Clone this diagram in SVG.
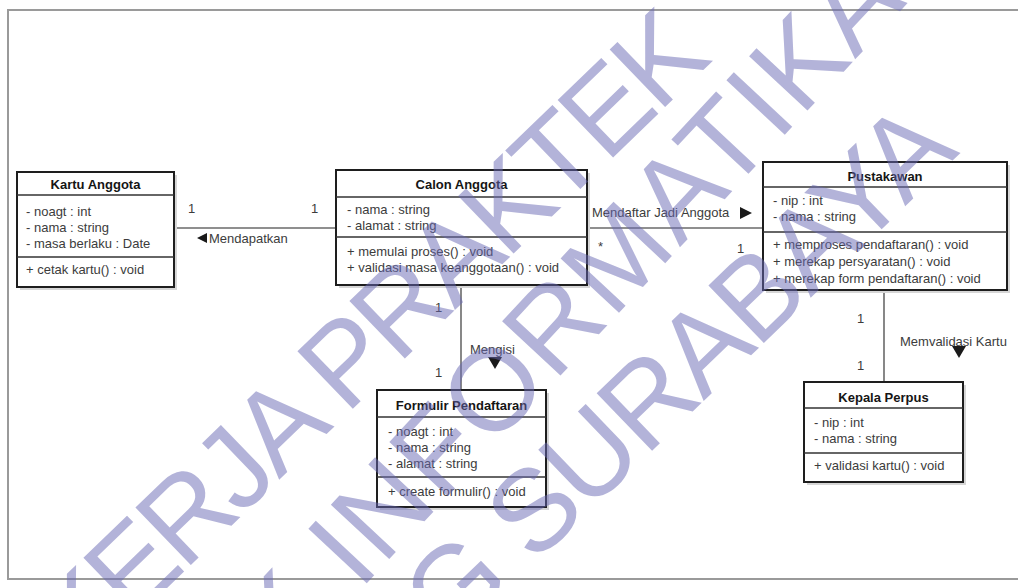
<svg xmlns="http://www.w3.org/2000/svg" width="1018" height="588" viewBox="0 0 1018 588">
<style>
.bg{fill:#fff}
.frame{fill:none;stroke:#9a9a9a;stroke-width:2}
.shadow{fill:#d6d6d6}
.box{fill:#fff;stroke:#1e1e1e;stroke-width:2}
.sep{stroke:#333;stroke-width:1.3}
.t{font-family:"Liberation Sans",Arial,sans-serif;font-size:13px;fill:#3c3c3c}
.title{font-weight:bold;fill:#151515;text-anchor:middle}
.conn{stroke:#6a6a6a;stroke-width:1.6;fill:none}
.tri{fill:#1a1a1a}
.wm{font-family:"Liberation Sans",Arial,sans-serif;font-size:116px;fill:#6767b3;fill-opacity:0.5}
</style>
<rect class="bg" x="0" y="0" width="1018" height="588"/>
<rect class="frame" x="8" y="10" width="1020" height="569"/>

<g id="connectors">
  <line class="conn" x1="174" y1="228" x2="336" y2="228"/>
  <line class="conn" x1="587" y1="228" x2="763" y2="228"/>
  <line class="conn" x1="461" y1="285" x2="461" y2="390"/>
  <line class="conn" x1="884" y1="290" x2="884" y2="382"/>
  <polygon class="tri" points="197,238 207,233 207,243"/>
  <text class="t" x="209" y="243">Mendapatkan</text>
  <text class="t" x="592" y="217">Mendaftar Jadi Anggota</text>
  <polygon class="tri" points="740,207 740,219 752,213"/>
  <text class="t" x="470" y="354">Mengisi</text>
  <polygon class="tri" points="488,357 502,357 495,369"/>
  <text class="t" x="900" y="346">Memvalidasi Kartu</text>
  <polygon class="tri" points="952,346 966,346 959,358"/>
  <text class="t" x="188" y="213">1</text>
  <text class="t" x="311" y="213">1</text>
  <text class="t" x="598" y="251">*</text>
  <text class="t" x="737" y="253">1</text>
  <text class="t" x="435" y="312">1</text>
  <text class="t" x="435" y="377">1</text>
  <text class="t" x="857" y="323">1</text>
  <text class="t" x="857" y="370">1</text>
</g>

<g id="kartu-anggota">
  <rect class="shadow" x="20" y="175" width="157" height="115"/>
  <rect class="box" x="17" y="172" width="157" height="115"/>
  <line class="sep" x1="17" y1="195" x2="174" y2="195"/>
  <line class="sep" x1="17" y1="257" x2="174" y2="257"/>
  <text class="t title" x="95.5" y="189">Kartu Anggota</text>
  <text class="t" x="26" y="216">- noagt : int</text>
  <text class="t" x="26" y="232">- nama : string</text>
  <text class="t" x="26" y="248">- masa berlaku : Date</text>
  <text class="t" x="26" y="274">+ cetak kartu() : void</text>
</g>

<g id="calon-anggota">
  <rect class="shadow" x="339" y="173" width="251" height="115"/>
  <rect class="box" x="336" y="170" width="251" height="115"/>
  <line class="sep" x1="336" y1="197" x2="587" y2="197"/>
  <line class="sep" x1="336" y1="237" x2="587" y2="237"/>
  <text class="t title" x="461.5" y="189">Calon Anggota</text>
  <text class="t" x="347" y="214">- nama : string</text>
  <text class="t" x="347" y="230">- alamat : string</text>
  <text class="t" x="347" y="256">+ memulai proses() : void</text>
  <text class="t" x="347" y="272">+ validasi masa keanggotaan() : void</text>
</g>

<g id="pustakawan">
  <rect class="shadow" x="766" y="165" width="244" height="128"/>
  <rect class="box" x="763" y="162" width="244" height="128"/>
  <line class="sep" x1="763" y1="187" x2="1007" y2="187"/>
  <line class="sep" x1="763" y1="232" x2="1007" y2="232"/>
  <text class="t title" x="885" y="181">Pustakawan</text>
  <text class="t" x="773" y="205">- nip : int</text>
  <text class="t" x="773" y="221">- nama : string</text>
  <text class="t" x="773" y="249">+ memproses pendaftaran() : void</text>
  <text class="t" x="773" y="266">+ merekap persyaratan() : void</text>
  <text class="t" x="773" y="283">+ merekap form pendaftaran() : void</text>
</g>

<g id="formulir-pendaftaran">
  <rect class="shadow" x="380" y="393" width="169" height="117"/>
  <rect class="box" x="377" y="390" width="169" height="117"/>
  <line class="sep" x1="377" y1="417" x2="546" y2="417"/>
  <line class="sep" x1="377" y1="477" x2="546" y2="477"/>
  <text class="t title" x="461.5" y="410">Formulir Pendaftaran</text>
  <text class="t" x="388" y="436">- noagt : int</text>
  <text class="t" x="388" y="452">- nama : string</text>
  <text class="t" x="388" y="468">- alamat : string</text>
  <text class="t" x="388" y="496">+ create formulir() : void</text>
</g>

<g id="kepala-perpus">
  <rect class="shadow" x="807" y="385" width="159" height="100"/>
  <rect class="box" x="804" y="382" width="159" height="100"/>
  <line class="sep" x1="804" y1="408" x2="963" y2="408"/>
  <line class="sep" x1="804" y1="453" x2="963" y2="453"/>
  <text class="t title" x="883.5" y="402">Kepala Perpus</text>
  <text class="t" x="814" y="427">- nip : int</text>
  <text class="t" x="814" y="443">- nama : string</text>
  <text class="t" x="814" y="470">+ validasi kartu() : void</text>
</g>

<g id="watermark">
  <text class="wm" letter-spacing="-5" transform="translate(80,672) rotate(-44)">KERJA PRAKTEK</text>
  <text class="wm" letter-spacing="2" transform="translate(282,674) rotate(-47)">K INFORMATIKA</text>
  <text class="wm" letter-spacing="-3" transform="translate(450,646) rotate(-44)">G SURABAYA</text>
</g>
</svg>
